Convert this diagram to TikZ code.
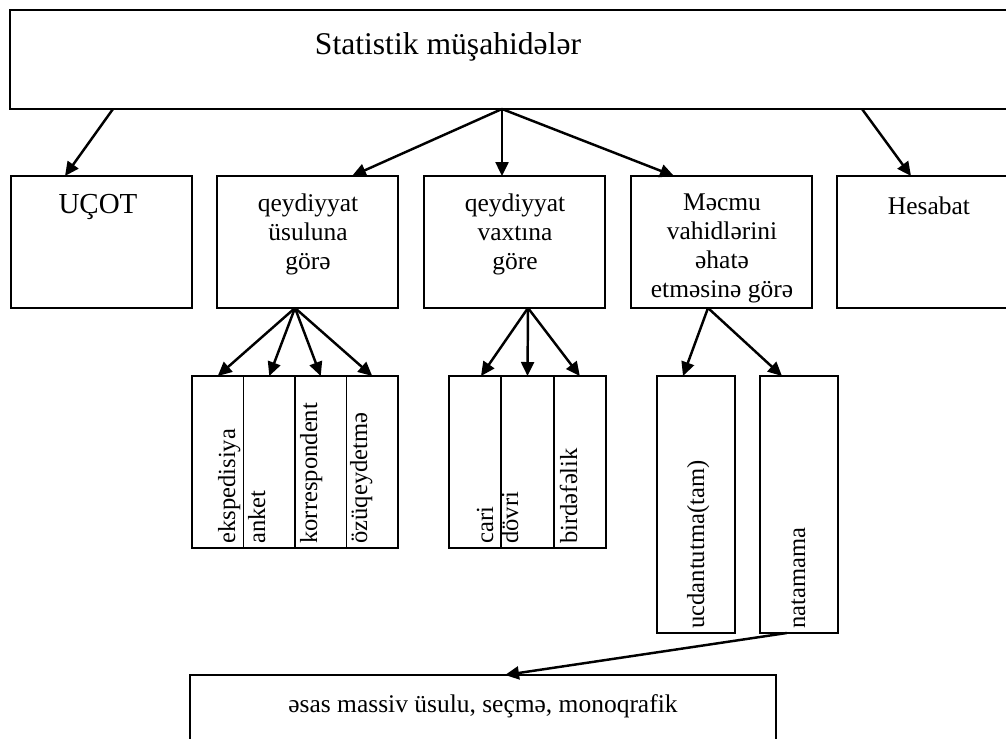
\documentclass[tikz,border=0pt]{standalone}
\usepackage{fontspec}
\setmainfont{Liberation Serif}
\usetikzlibrary{arrows.meta,calc}
\tikzset{
  box/.style={draw, line width=1pt, rectangle, inner sep=0pt, outer sep=0pt, anchor=north west},
  arr/.style={line width=1.4pt, -{Triangle[length=0.28cm,width=0.26cm]}},
  lbl/.style={inner sep=0pt, align=center, anchor=north, font=\fontsize{14.5pt}{16.6pt}\selectfont},
  vlbl/.style={inner sep=0pt, rotate=90, anchor=base west, font=\fontsize{14pt}{15.6pt}\selectfont},
}
\begin{document}
\begin{tikzpicture}[x=0.02cm,y=-0.02cm]
\useasboundingbox[fill=white] (0,0) rectangle (1006,738);
% top box
\node[box, minimum width=20.2cm, minimum height=1.98cm] (top) at (10,10) {};
\node[lbl, font=\fontsize{18pt}{20pt}\selectfont] (title) at (448,32) {Statistik müşahidələr};
% second row
\node[box, minimum width=3.62cm, minimum height=2.64cm] (ucot) at (11,176) {};
\node[box, minimum width=3.62cm, minimum height=2.64cm] (q1) at (217,176) {};
\node[box, minimum width=3.62cm, minimum height=2.64cm] (q2) at (424,176) {};
\node[box, minimum width=3.62cm, minimum height=2.64cm] (mc) at (631,176) {};
\node[box, minimum width=3.64cm, minimum height=2.64cm] (hes) at (837,176) {};
\node[lbl, font=\fontsize{16.5pt}{18pt}\selectfont] (tucot) at (98,194) {UÇOT};
\node[lbl] (tq1) at (308,193) {qeydiyyat\\üsuluna\\görə};
\node[lbl] (tq2) at (515,193) {qeydiyyat\\vaxtına\\göre};
\node[lbl] (tmc) at (722,193) {Məcmu\\vahidlərini\\əhatə\\etməsinə görə};
\node[lbl] (thes) at (929,196) {Hesabat};
% third row, group 1
\node[box, minimum width=1.03cm, minimum height=3.44cm] (c11) at (192,376) {};
\node[box, minimum width=1.03cm, minimum height=3.44cm] (c12) at (243.5,376) {};
\node[box, minimum width=1.03cm, minimum height=3.44cm] (c13) at (295,376) {};
\node[box, minimum width=1.03cm, minimum height=3.44cm] (c14) at (346.5,376) {};
\node[vlbl] (t11) at (235,544) {ekspedisiya};
\node[vlbl] (t12) at (265,544) {anket};
\node[vlbl] (t13) at (317,544) {korrespondent};
\node[vlbl] (t14) at (367,544) {özüqeydetmə};
% group 2
\node[box, minimum width=1.047cm, minimum height=3.44cm] (c21) at (449,376) {};
\node[box, minimum width=1.047cm, minimum height=3.44cm] (c22) at (501.33,376) {};
\node[box, minimum width=1.047cm, minimum height=3.44cm] (c23) at (553.67,376) {};
\node[vlbl] (t21) at (493,544) {cari};
\node[vlbl] (t22) at (518,544) {dövri};
\node[vlbl] (t23) at (577,544) {birdəfəlik};
% group 3
\node[box, minimum width=1.56cm, minimum height=5.14cm] (ucd) at (657,376) {};
\node[box, minimum width=1.56cm, minimum height=5.14cm] (nat) at (760,376) {};
\node[vlbl] (t31) at (704,629) {ucdantutma(tam)};
\node[vlbl] (t32) at (805,629) {natamama};
% bottom box
\node[box, minimum width=11.72cm, minimum height=2cm] (bot) at (190,675) {};
\node[lbl] (tbot) at (483,694) {əsas massiv üsulu, seçmə, monoqrafik};
% arrows from top
\draw[arr] ($(top.south west)+(103,0)$) -- ($(ucot.north west)+(54,0)$);
\draw[arr] ($(top.south west)+(492,0)$) -- ($(q1.north west)+(135,0)$);
\draw[arr] ($(top.south west)+(492,0)$) -- ($(q2.north west)+(78,0)$);
\draw[arr] ($(top.south west)+(492,0)$) -- ($(mc.north west)+(43,0)$);
\draw[arr] ($(top.south west)+(852,0)$) -- ($(hes.north west)+(74,0)$);
% arrows from q1
\draw[arr] ($(q1.south west)+(78,0)$) -- (c11.north);
\draw[arr] ($(q1.south west)+(78,0)$) -- (c12.north);
\draw[arr] ($(q1.south west)+(78,0)$) -- (c13.north);
\draw[arr] ($(q1.south west)+(78,0)$) -- (c14.north);
% arrows from q2
\draw[arr] ($(q2.south west)+(104,0)$) -- ($(c21.north west)+(32,0)$);
\draw[arr] ($(q2.south west)+(104,0)$) -- (c22.north);
\draw[arr] ($(q2.south west)+(104,0)$) -- (c23.north);
% arrows from mc
\draw[arr] ($(mc.south west)+(77,0)$) -- ($(ucd.north west)+(26,0)$);
\draw[arr] ($(mc.south west)+(77,0)$) -- ($(nat.north west)+(22,0)$);
% arrow to bottom
\draw[arr] ($(nat.south west)+(27,0)$) -- ($(bot.north west)+(315,0)$);
\end{tikzpicture}
\end{document}
